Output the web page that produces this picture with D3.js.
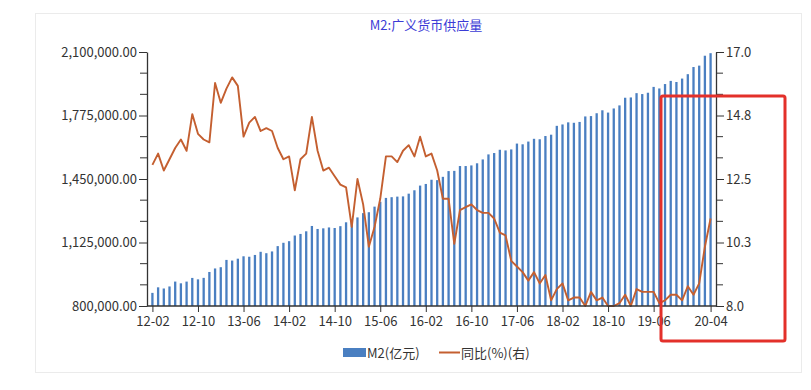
<!DOCTYPE html>
<html>
<head>
<meta charset="utf-8">
<script src="https://cdn.jsdelivr.net/npm/d3@7.9.0/dist/d3.min.js"></script>
<style>
  body { margin: 0; background: #fff; }
  svg text { font-family: "Noto Sans CJK SC", "Noto Sans", sans-serif; }
</style>
</head>
<body>
<svg id="chart" width="811" height="390"></svg>
<script>
// M2 (亿元), monthly 2012-02 .. 2020-04
const m2 = [
  867171, 895566, 889604, 900049, 924991, 916122, 924895, 943689, 936404, 944000, 974149,
  992129, 998601, 1035858, 1032552, 1042169, 1054404, 1052212, 1061256, 1077379, 1070242, 1079257, 1106525,
  1123521, 1131761, 1160687, 1168813, 1182300, 1209587, 1194249, 1197499, 1202051, 1199236, 1208606, 1228375,
  1235700, 1253384, 1275333, 1280000, 1308573, 1333375, 1353211, 1356910, 1359824, 1361000, 1374956, 1392278,
  1416320, 1424619, 1446198, 1444200, 1461100, 1490500, 1491600, 1516400, 1516400, 1519500, 1530400, 1550100,
  1575900, 1582900, 1599600, 1596300, 1601400, 1631300, 1627600, 1641600, 1655700, 1653400, 1670000, 1676800,
  1722100, 1729200, 1739900, 1737700, 1742100, 1770200, 1772000, 1786600, 1801700, 1790000, 1811000, 1826700,
  1865900, 1867400, 1889400, 1884700, 1891500, 1921400, 1913400, 1936000, 1952100, 1946500, 1964000, 1986500,
  2023100, 2030300, 2080900, 2094000
];
// 同比 (%)
const yoy = [
  13.0, 13.4, 12.8, 13.2, 13.6, 13.9, 13.5, 14.8, 14.1, 13.9, 13.8,
  15.9, 15.2, 15.7, 16.1, 15.8, 14.0, 14.5, 14.7, 14.2, 14.3, 14.2, 13.6,
  13.2, 13.3, 12.1, 13.2, 13.4, 14.7, 13.5, 12.8, 12.9, 12.6, 12.3, 12.2,
  10.8, 12.5, 11.6, 10.1, 10.8, 11.8, 13.3, 13.3, 13.1, 13.5, 13.7, 13.3,
  14.0, 13.3, 13.4, 12.8, 11.8, 11.8, 10.2, 11.4, 11.5, 11.6, 11.4, 11.3,
  11.3, 11.1, 10.6, 10.5, 9.6, 9.4, 9.2, 8.9, 9.2, 8.8, 9.1, 8.2,
  8.6, 8.8, 8.2, 8.3, 8.3, 8.0, 8.5, 8.2, 8.3, 8.0, 8.0, 8.1,
  8.4, 8.0, 8.6, 8.5, 8.5, 8.5, 8.1, 8.2, 8.4, 8.4, 8.2, 8.7,
  8.4, 8.8, 10.1, 11.1
];
const xTickLabels = ['12-02', '12-10', '13-06', '14-02', '14-10', '15-06', '16-02',
                     '16-10', '17-06', '18-02', '18-10', '19-06', '20-04'];
const leftTicks = [800000, 1125000, 1450000, 1775000, 2100000];
const rightTicks = [8.0, 10.25, 12.5, 14.75, 17.0];
const rightTickLabels = ['8.0', '10.3', '12.5', '14.8', '17.0'];

const fmtMonth = d3.timeFormat('%y-%m');
const months = d3.timeMonths(new Date(2012, 1, 1), new Date(2020, 4, 1)).map(fmtMonth);

const svg = d3.select('#chart');
const plotL = 147, plotR = 716, plotT = 52, plotB = 306;

// outer frame
svg.append('rect')
  .attr('x', 35.5).attr('y', 13.5).attr('width', 766).attr('height', 359)
  .attr('fill', '#fff').attr('stroke', '#ebebeb');

const x = d3.scalePoint().domain(months).range([plotL, plotR]).padding(0.95);
const yL = d3.scaleLinear().domain([800000, 2100000]).range([plotB, plotT]);
const yR = d3.scaleLinear().domain([8, 17]).range([plotB, plotT]);

// bars
svg.append('g').selectAll('rect')
  .data(m2)
  .join('rect')
  .attr('x', (d, i) => x(months[i]) - 1.15)
  .attr('width', 2.3)
  .attr('y', d => yL(d))
  .attr('height', d => yL(800000) - yL(d))
  .attr('fill', '#4a7fc1');

// line
const line = d3.line()
  .x((d, i) => x(months[i]))
  .y(d => yR(d));
svg.append('path')
  .datum(yoy)
  .attr('d', line)
  .attr('fill', 'none')
  .attr('stroke', '#c45f30')
  .attr('stroke-width', 1.9)
  .attr('stroke-linejoin', 'round');

// minor ticks: two between each pair of labelled ticks
function withMinor(ticks) {
  let out = [];
  for (let i = 0; i < ticks.length - 1; i++) {
    let s = (ticks[i + 1] - ticks[i]) / 3;
    out.push(ticks[i] + s, ticks[i] + 2 * s);
  }
  return out;
}

// left axis
const gl = svg.append('g').attr('transform', `translate(${plotL},0)`)
  .call(d3.axisLeft(yL).tickValues(leftTicks).tickSize(8).tickSizeOuter(0)
    .tickFormat(d3.format(',.2f')));
gl.append('g').selectAll('line')
  .data(withMinor(leftTicks))
  .join('line')
  .attr('x1', -7).attr('x2', 0)
  .attr('y1', d => yL(d)).attr('y2', d => yL(d))
  .attr('stroke', '#333');

// right axis
const gr = svg.append('g').attr('transform', `translate(${plotR},0)`)
  .call(d3.axisRight(yR).tickValues(rightTicks).tickSize(8).tickSizeOuter(0)
    .tickFormat((d, i) => rightTickLabels[i]));
gr.append('g').selectAll('line')
  .data(withMinor(rightTicks))
  .join('line')
  .attr('x1', 0).attr('x2', 7)
  .attr('y1', d => yR(d)).attr('y2', d => yR(d))
  .attr('stroke', '#333');

// bottom axis
const gb = svg.append('g').attr('transform', `translate(0,${plotB})`)
  .call(d3.axisBottom(x).tickValues(xTickLabels).tickSize(6).tickSizeOuter(0));
gb.select('.domain').attr('d', `M${plotL},0H${plotR}`);

[gl, gr, gb].forEach(g => {
  g.select('.domain').attr('stroke', '#333').attr('stroke-width', 1.3);
  g.selectAll('.tick line').attr('stroke', '#333');
  g.selectAll('.tick text').attr('fill', '#333').attr('font-size', 13);
});
gl.selectAll('.tick text').attr('x', -10);
gr.selectAll('.tick text').attr('x', 10);
gb.selectAll('.tick text').attr('y', 11);

// title
svg.append('text')
  .attr('x', 426).attr('y', 30)
  .attr('text-anchor', 'middle')
  .attr('font-size', 13)
  .attr('fill', '#3b3bd6')
  .text('M2:广义货币供应量');

// legend
const lg = svg.append('g');
lg.append('rect').attr('x', 343).attr('y', 348).attr('width', 23).attr('height', 9).attr('fill', '#4a7fc1');
lg.append('text').attr('x', 367).attr('y', 357.5).attr('font-size', 13).attr('fill', '#333').text('M2(亿元)');
lg.append('line').attr('x1', 439).attr('x2', 460).attr('y1', 352.5).attr('y2', 352.5)
  .attr('stroke', '#c45f30').attr('stroke-width', 2);
lg.append('text').attr('x', 461).attr('y', 357.5).attr('font-size', 13).attr('fill', '#333').text('同比(%)(右)');

// red highlight box
svg.append('rect')
  .attr('x', 661).attr('y', 96).attr('width', 124).attr('height', 245).attr('rx', 2)
  .attr('fill', 'none').attr('stroke', '#e3302a').attr('stroke-width', 3);
</script>
</body>
</html>
